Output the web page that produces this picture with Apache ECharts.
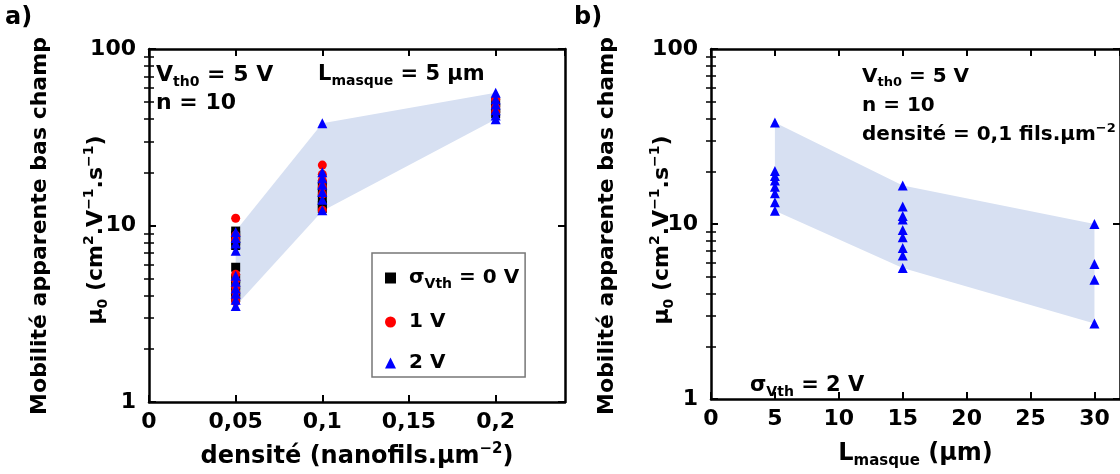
<!DOCTYPE html>
<html><head><meta charset="utf-8">
<script src="https://cdn.jsdelivr.net/npm/echarts@6/dist/echarts.min.js"></script>
<style>html,body{margin:0;padding:0;background:#fff}#c{width:1120px;height:474px}</style>
</head><body><div id="c"></div>
<script>
// ---------- Panel a: mobility vs density ----------
const densities = [0.05, 0.1, 0.2];
const sigma0V = [ // black squares, per density
  [9.3, 8.8, 8.2, 7.7, 5.8, 5.0, 4.6, 4.2, 3.9],
  [17, 15.5, 14, 13, 12.5],
  [50, 46, 43]
];
const sigma1V = [ // red circles
  [11, 8.8, 8.3, 5.3, 4.9, 4.5, 4.2, 3.9, 3.7],
  [22, 19.5, 18, 16.5, 15, 12.2],
  [52, 47, 44]
];
const sigma2V = [ // blue triangles
  [9.2, 8.5, 7.9, 7.2, 5.2, 4.8, 4.4, 4.1, 3.8, 3.5],
  [38, 20, 18.5, 17, 15.5, 14, 12.2],
  [56.5, 52, 48.5, 45, 42, 40]
];
const bandA_top = [9.3, 38, 56.5];
const bandA_bottom = [3.5, 12.1, 40];

// ---------- Panel b: mobility vs mask length ----------
const lengths = [5, 15, 30];
const sigma2B = [
  [38, 20.1, 18.8, 17.7, 16.3, 15.0, 13.3, 11.9],
  [16.6, 12.6, 11.1, 10.6, 9.25, 8.4, 7.3, 6.6, 5.6],
  [10, 5.9, 4.8, 2.7]
];
const bandB_top = [38, 16.6, 10];
const bandB_bottom = [11.9, 5.6, 2.7];

// ticks
const minorTickVals = [2,3,4,5,6,7,8,9,20,30,40,50,60,70,80,90];
const xA = {min: 0, max: 0.24, interval: 0.05};
const xB = {min: 0, max: 32, interval: 5};

const FONT = 'DejaVu Sans';
const B = {fontFamily: FONT, fontWeight: 'bold', color: '#000'};
function richOf(size, subSize) {
  return {
    t: Object.assign({fontSize: size, lineHeight: Math.round(size * 1.25)}, B),
    sub: Object.assign({fontSize: subSize, lineHeight: subSize + 2, verticalAlign: 'bottom'}, B),
    sup: Object.assign({fontSize: subSize, lineHeight: subSize + 2, verticalAlign: 'top'}, B)
  };
}

function pts(xs, groups) {
  const out = [];
  groups.forEach((g, i) => g.forEach(v => out.push([xs[i], v])));
  return out;
}

function bandSeries(xs, top, bottom, gi) {
  return {
    type: 'custom', xAxisIndex: gi*2, yAxisIndex: gi*4, z: 1, silent: true,
    data: [[xs[0], top[0]]],
    renderItem: function (params, api) {
      const poly = [];
      xs.forEach((x, i) => poly.push(api.coord([x, top[i]])));
      for (let i = xs.length - 1; i >= 0; i--) poly.push(api.coord([xs[i], bottom[i]]));
      return {type: 'polygon', shape: {points: poly}, style: {fill: '#d7e0f2', stroke: null}};
    }
  };
}

const axisLine = {show: true, onZero: false, lineStyle: {color: '#000', width: 2.5}};
const axisTick = {show: true, inside: true, length: 7, lineStyle: {color: '#000', width: 2}};

function xAxes(xr, gi, name, fmt) {
  return [
    {type: 'value', gridIndex: gi, position: 'bottom', min: xr.min, max: xr.max, interval: xr.interval,
     axisLine, axisTick, splitLine: {show: false},
     axisLabel: Object.assign({fontSize: 22, margin: 9, showMaxLabel: false, formatter: fmt}, B),
     name: name, nameLocation: 'middle', nameGap: 40,
     nameTextStyle: {rich: richOf(24, 15)}},
    {type: 'value', gridIndex: gi, position: 'top', min: xr.min, max: xr.max, interval: xr.interval,
     axisLine, axisTick, splitLine: {show: false}, axisLabel: {show: false}}
  ];
}
function yAxes(gi) {
  const minor = pos => ({type: 'log', gridIndex: gi, position: pos, min: 1, max: 100, logBase: 10,
     axisLine: {show: false}, splitLine: {show: false}, axisLabel: {show: false},
     axisTick: {show: true, inside: true, length: 5, customValues: minorTickVals,
                lineStyle: {color: '#000', width: 1.5}}});
  return [
    {type: 'log', gridIndex: gi, position: 'left', min: 1, max: 100, logBase: 10,
     axisLine, axisTick, splitLine: {show: false},
     axisLabel: Object.assign({fontSize: 22, margin: 13}, B)},
    {type: 'log', gridIndex: gi, position: 'right', min: 1, max: 100, logBase: 10,
     axisLine, axisTick, splitLine: {show: false}, axisLabel: {show: false}},
    minor('left'), minor('right')
  ];
}

const fmtA = v => String(parseFloat(v.toFixed(2))).replace('.', ',');
const fmtB = v => String(Math.round(v));

function txt(x, y, text, size, subSize) {
  return {type: 'text', x: x, y: y, z: 50,
    style: {text: text, rich: richOf(size || 22, subSize || 14), align: 'left', verticalAlign: 'middle'}};
}
function ytitle(x, y, text) {
  return {type: 'text', x: x, y: y, rotation: Math.PI / 2, z: 50,
    style: {text: text, rich: richOf(22, 14), align: 'center', verticalAlign: 'middle'}};
}
const muLine = '{t|µ}{sub|0}{t| (cm}{sup|2}{t|.V}{sup|−1}{t|.s}{sup|−1}{t|)}';

const option = {
  animation: false,
  backgroundColor: '#fff',
  grid: [
    {left: 149, top: 49, width: 416, height: 358},
    {left: 711, top: 49, width: 412, height: 357}
  ],
  xAxis: [].concat(
    xAxes(xA, 0, '{t|densité (nanofils.µm}{sup|−2}{t|)}', fmtA),
    xAxes(xB, 1, '{t|L}{sub|masque}{t| (µm)}', fmtB)),
  yAxis: [].concat(yAxes(0), yAxes(1)),
  legend: {
    left: 372, top: 253, orient: 'vertical', data: ['s0', 's1', 's2'],
    borderColor: '#777', borderWidth: 1.5, padding: [15, 6, 4, 13], itemGap: 21,
    itemWidth: 11, itemHeight: 11,
    formatter: n => ({s0: '{p|σ}{sub|Vth}{t| = 0 V}', s1: '{p|1 V}', s2: '{p|2 V}'})[n],
    textStyle: {rich: {
      p: Object.assign({fontSize: 20, lineHeight: 26, padding: [0, 0, 0, 8]}, B),
      t: Object.assign({fontSize: 20, lineHeight: 26}, B),
      sub: Object.assign({fontSize: 14, lineHeight: 16, verticalAlign: 'bottom'}, B)
    }}
  },
  series: [
    bandSeries(densities, bandA_top, bandA_bottom, 0),
    bandSeries(lengths, bandB_top, bandB_bottom, 1),
    {name: 's0', type: 'scatter', xAxisIndex: 0, yAxisIndex: 0, symbol: 'rect', symbolSize: 9, z: 3,
     itemStyle: {color: '#000000', opacity: 1}, data: pts(densities, sigma0V)},
    {name: 's1', type: 'scatter', xAxisIndex: 0, yAxisIndex: 0, symbol: 'circle', symbolSize: 9, z: 4,
     itemStyle: {color: '#ff0000', opacity: 1}, data: pts(densities, sigma1V)},
    {name: 's2', type: 'scatter', xAxisIndex: 0, yAxisIndex: 0, symbol: 'triangle', symbolSize: 10, z: 5,
     itemStyle: {color: '#0000ff', opacity: 1}, data: pts(densities, sigma2V)},
    {name: 'b2', type: 'scatter', xAxisIndex: 2, yAxisIndex: 4, symbol: 'triangle', symbolSize: 10, z: 5,
     itemStyle: {color: '#0000ff', opacity: 1}, data: pts(lengths, sigma2B)}
  ],
  graphic: [
    txt(5, 18, '{t|a)}', 24),
    txt(574, 18, '{t|b)}', 24),
    txt(156, 75, '{t|V}{sub|th0}{t| = 5 V}'),
    txt(156, 103, '{t|n = 10}'),
    txt(318, 75, '{t|L}{sub|masque}{t| = 5 µm}', 21, 14),
    txt(862, 77, '{t|V}{sub|th0}{t| = 5 V}', 20, 13),
    txt(862, 106, '{t|n = 10}', 20, 13),
    txt(862, 135, '{t|densité = 0,1 fils.µm}{sup|−2}', 20, 13),
    txt(750, 386, '{t|σ}{sub|Vth}{t| = 2 V}', 21, 14),
    ytitle(40, 226, '{t|Mobilité apparente bas champ}'),
    ytitle(96, 230, muLine),
    ytitle(607, 226, '{t|Mobilité apparente bas champ}'),
    ytitle(662, 230, muLine)
  ]
};
const chart = echarts.init(document.getElementById('c'), null, {renderer: 'canvas'});
chart.setOption(option);
</script></body></html>
